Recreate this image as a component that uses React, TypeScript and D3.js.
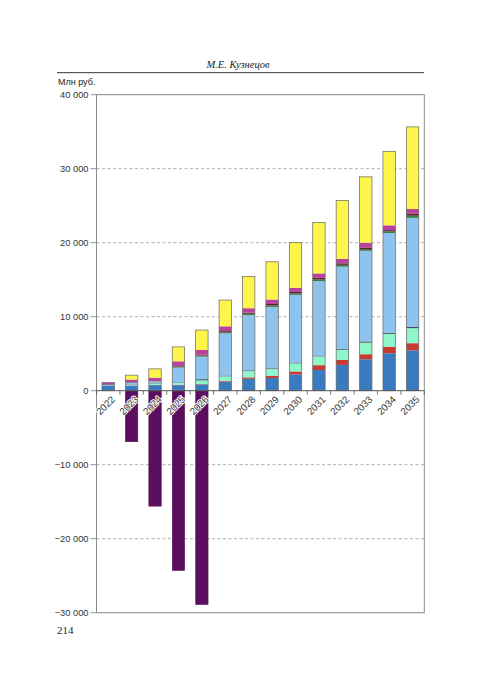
import React from "react";
import * as d3 from "d3";

const years = ["2022","2023","2024","2025","2026","2027","2028","2029","2030","2031","2032","2033","2034","2035"];

// stacked positive components, млн руб. (bottom -> top)
const sBlue = [720, 700, 750, 750, 850, 1200, 1600, 1720, 2200, 2800, 3480, 4250, 5060, 5450];
const sRed = [0, 20, 30, 50, 50, 100, 200, 300, 400, 650, 680, 680, 880, 970];
const sAqua = [50, 100, 200, 250, 500, 650, 850, 900, 1100, 1200, 1350, 1570, 1750, 2030];
const sDark = [80, 50, 50, 70, 150, 100, 100, 100, 100, 100, 100, 150, 150, 150];
const sLightBlue = [0, 200, 220, 2000, 3050, 5700, 7450, 8300, 9150, 10050, 11150, 12250, 13460, 14750];
const sGreen = [0, 50, 30, 120, 150, 150, 200, 200, 200, 250, 250, 250, 250, 300];
const sDarkRed = [0, 50, 20, 80, 100, 150, 150, 200, 200, 200, 200, 150, 150, 300];
const sMagenta = [250, 330, 450, 650, 650, 650, 600, 600, 550, 600, 600, 700, 650, 600];
const sYellow = [0, 600, 1200, 1950, 2700, 3550, 4300, 5100, 6100, 6900, 7900, 8900, 10000, 11100];
// negative component
const sPurple = [0, -6900, -15600, -24300, -28900, 0, 0, 0, 0, 0, 0, 0, 0, 0];

const yTicks = [-30000, -20000, -10000, 0, 10000, 20000, 30000, 40000];

const series = [
  { key: "blue", values: sBlue, color: "#3a7bbf" },
  { key: "red", values: sRed, color: "#c93a2e" },
  { key: "aqua", values: sAqua, color: "#8ef7c9" },
  { key: "dark", values: sDark, color: "#2f3a4a" },
  { key: "lightblue", values: sLightBlue, color: "#8dc3ec" },
  { key: "green", values: sGreen, color: "#3e7d44" },
  { key: "darkred", values: sDarkRed, color: "#5a2030" },
  { key: "magenta", values: sMagenta, color: "#b8439c" },
  { key: "yellow", values: sYellow, color: "#fdf44c" },
];

const fmt = (v: number) => {
  const s = d3.format(",")(Math.abs(v)).replace(/,/g, " ");
  return v < 0 ? "\u2212" + s : s;
};

export default function App() {
  const W = 480, H = 685;
  const left = 96.5, right = 424.3, top = 94.7, bottom = 612.7;
  const x = d3.scaleBand<string>().domain(years).range([left, right]).paddingInner(0.47).paddingOuter(0.235);
  const y = d3.scaleLinear().domain([-30000, 40000]).range([bottom, top]);
  const stack = d3.stack<number>()
    .keys(series.map((_, i) => String(i)))
    .value((d, k) => series[+k].values[d]);
  const stacked = stack(years.map((_, i) => i));
  const step = x.step();
  const sans = "'Liberation Sans', Arial, sans-serif";
  const serif = "'Liberation Serif', 'Times New Roman', serif";

  return (
    <svg width={W} height={H} style={{ position: "absolute", left: 0, top: 0, background: "#fff" }}>
      {/* header */}
      <text x={238} y={68} textAnchor="middle" fontFamily={serif} fontStyle="italic" fontSize={10.5} fill="#222">М.Е. Кузнецов</text>
      <line x1={57} x2={424} y1={72.7} y2={72.7} stroke="#333" strokeWidth={1} />
      <text x={58} y={85} fontFamily={sans} fontSize={9} fill="#222">Млн руб.</text>

      {/* grid */}
      {yTicks.filter(t => t !== 0 && t !== 40000 && t !== -30000).map(t => (
        <line key={"g" + t} x1={left} x2={right} y1={y(t)} y2={y(t)} stroke="#9a9a9a" strokeWidth={0.8} strokeDasharray="3,2.5" />
      ))}

      {/* frame */}
      <rect x={left} y={top} width={right - left} height={bottom - top} fill="none" stroke="#8a8a8a" strokeWidth={1} />

      {/* y ticks */}
      {yTicks.map(t => (
        <g key={"t" + t}>
          <line x1={left - 6} x2={left} y1={y(t)} y2={y(t)} stroke="#777" strokeWidth={0.8} />
          <text x={88.5} y={y(t)} dy="0.35em" textAnchor="end" fontFamily={sans} fontSize={9.3} fill="#333">{fmt(t)}</text>
        </g>
      ))}

      {/* negative bars */}
      {years.map((yr, i) => sPurple[i] < 0 ? (
        <rect key={"n" + yr} x={x(yr)} y={y(0)} width={x.bandwidth()} height={y(sPurple[i]) - y(0)} fill="#5c0e5e" stroke="#4a0a4a" strokeWidth={0.5} />
      ) : null)}

      {/* positive stacked bars */}
      {stacked.map((layer, li) => (
        <g key={"l" + li} fill={series[li].color}>
          {layer.map((d, i) => d[1] - d[0] > 0 ? (
            <rect key={i} x={x(years[i])} y={y(d[1])} width={x.bandwidth()} height={y(d[0]) - y(d[1])} />
          ) : null)}
        </g>
      ))}
      {years.map((yr, i) => {
        const total = stacked[stacked.length - 1][i][1];
        return (
          <rect key={"o" + yr} x={x(yr)} y={y(total)} width={x.bandwidth()} height={y(0) - y(total)} fill="none" stroke="#666" strokeWidth={0.7} />
        );
      })}

      {/* zero axis */}
      <line x1={left} x2={right} y1={y(0)} y2={y(0)} stroke="#555" strokeWidth={1} />
      {d3.range(years.length + 1).map(k => (
        <line key={"xt" + k} x1={left + k * step} x2={left + k * step} y1={y(0)} y2={y(0) + 4} stroke="#555" strokeWidth={0.8} />
      ))}
      {years.map(yr => {
        const cx = (x(yr) as number) + x.bandwidth() / 2 + 5;
        const cy = y(0) + 7;
        return (
          <text key={"xl" + yr} x={cx} y={cy} dy="0.35em" textAnchor="end" transform={`rotate(-45 ${cx} ${cy})`}
            fontFamily={sans} fontSize={9.8} fill="#333" stroke="#fff" strokeWidth={2} paintOrder="stroke" strokeLinejoin="round">{yr}</text>
        );
      })}

      {/* page number */}
      <text x={57} y={634} fontFamily={serif} fontSize={11} fill="#222">214</text>
    </svg>
  );
}
